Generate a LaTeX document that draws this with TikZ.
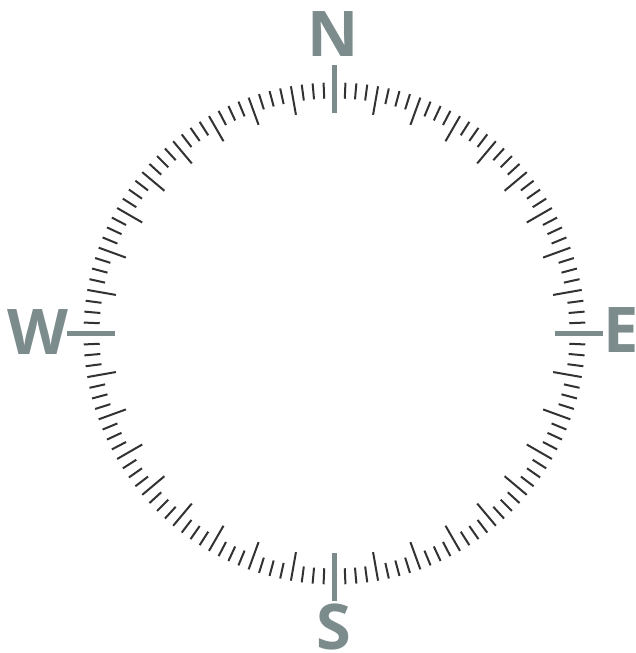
\documentclass[tikz,border=0pt]{standalone}
\usepackage{fontspec}
\setmainfont{Open Sans}
\definecolor{cardgray}{RGB}{124,140,140}
\definecolor{tickgray}{RGB}{50,50,50}
\begin{document}
\begin{tikzpicture}[x=1pt,y=1pt,
  cardtick/.style={draw=cardgray, line width=5pt},
  minortick/.style={draw=tickgray, line width=2pt},
  cardlabel/.style={text=cardgray, font=\fontsize{63}{63}\selectfont\bfseries, inner sep=0pt, anchor=base}]
\useasboundingbox (0,0) rectangle (635,653);
\coordinate (c) at (334.5,319.5);
\foreach \i in {0,...,143}{
  \pgfmathtruncatemacro\m{mod(\i,36)}
  \pgfmathtruncatemacro\k{mod(\i,4)}
  \ifnum\m=0\relax\else
    \ifnum\k=0\relax
      \draw[minortick] ([shift={(\i*2.5:222)}]c) -- ([shift={(\i*2.5:251)}]c);
    \else
      \draw[minortick] ([shift={(\i*2.5:235)}]c) -- ([shift={(\i*2.5:251)}]c);
    \fi
  \fi
}
\foreach \a in {0,90,180,270}{
  \draw[cardtick] ([shift={(\a:220)}]c) -- ([shift={(\a:268)}]c);
}
\node[cardlabel] (N) at (333.5,596) {N};
\node[cardlabel] (S) at (333.5,4) {S};
\node[cardlabel] (W) at (37.5,298) {W};
\node[cardlabel] (E) at (621,300) {E};
\end{tikzpicture}
\end{document}
